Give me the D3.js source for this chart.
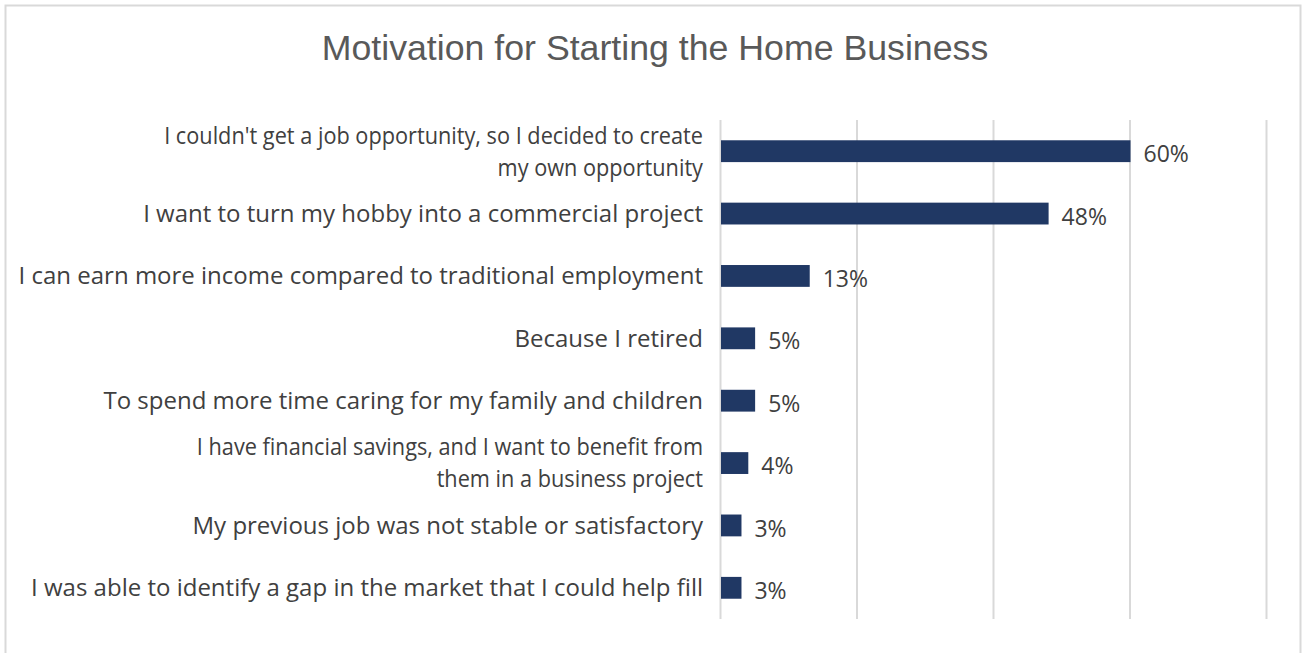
<!DOCTYPE html>
<html>
<head>
<meta charset="utf-8">
<script src="https://cdn.jsdelivr.net/npm/d3@7"></script>
<style>
  html, body { margin: 0; padding: 0; background: #fff; }
  svg { display: block; }
</style>
</head>
<body>
<svg id="chart" width="1306" height="653"></svg>
<script>
// Survey answers, one entry per bar; "\n" marks a wrapped label line
const categories = [
  "I couldn't get a job opportunity, so I decided to create\nmy own opportunity",
  "I want to turn my hobby into a commercial project",
  "I can earn more income compared to traditional employment",
  "Because I retired",
  "To spend more time caring for my family and children",
  "I have financial savings, and I want to benefit from\nthem in a business project",
  "My previous job was not stable or satisfactory",
  "I was able to identify a gap in the market that I could help fill"
];
// Share of respondents, percent
const values = [60, 48, 13, 5, 5, 4, 3, 3];
// Value-axis gridline positions, percent
const gridTicks = [0, 20, 40, 60, 80];
const titleText = "Motivation for Starting the Home Business";

const svg = d3.select("#chart");
const W = 1306, H = 653;

// Outer chart frame
svg.append("rect")
  .attr("x", 5.5).attr("y", 5.5)
  .attr("width", W - 11).attr("height", H + 20)
  .attr("fill", "#fff")
  .attr("stroke", "#d9d9d9").attr("stroke-width", 2);

// Title
svg.append("text")
  .attr("x", 655).attr("y", 60)
  .attr("text-anchor", "middle")
  .attr("font-family", "'Liberation Sans', Arial, sans-serif")
  .attr("font-size", 35.7)
  .attr("fill", "#595959")
  .text(titleText);

const plot = { left: 720, right: 1266, top: 120, bottom: 619 };

const x = d3.scaleLinear()
  .domain([0, d3.max(gridTicks)])
  .range([plot.left, plot.right]);

const y = d3.scaleBand()
  .domain(d3.range(categories.length))
  .range([plot.top, plot.bottom])
  .paddingInner(0.65)
  .paddingOuter(0.325);

// Vertical gridlines
const grid = svg.append("g")
  .attr("transform", `translate(0,${plot.bottom})`)
  .call(d3.axisBottom(x).tickValues(gridTicks)
    .tickSize(-(plot.bottom - plot.top)).tickFormat(""));
grid.select(".domain").remove();
grid.selectAll(".tick line")
  .attr("stroke", "#d9d9d9").attr("stroke-width", 2);

// Bars
svg.append("g").selectAll("rect")
  .data(values)
  .join("rect")
  .attr("x", x(0) + 1)
  .attr("y", (d, i) => y(i))
  .attr("width", d => x(d) - x(0))
  .attr("height", y.bandwidth())
  .attr("fill", "#203864");

// Value labels
svg.append("g").selectAll("text")
  .data(values)
  .join("text")
  .attr("x", d => x(d) + 14)
  .attr("y", (d, i) => y(i) + y.bandwidth() / 2 + 5)
  .attr("dominant-baseline", "middle")
  .attr("font-family", "'Open Sans', sans-serif")
  .attr("font-size", 23)
  .attr("fill", "#404040")
  .text(d => d + "%");

// Category labels, right-aligned against the value axis;
// wrapped labels are set in a narrower face
const labelX = plot.left - 17;
const catG = svg.append("g");
categories.forEach((c, i) => {
  const lines = c.split("\n");
  const cy = y(i) + y.bandwidth() / 2;
  const lineH = 32;
  const wrapped = lines.length > 1;
  const g = catG.append("g")
    .attr("transform", wrapped
      ? `translate(${labelX},0) scale(0.905,1)`
      : `translate(${labelX},0)`);
  lines.forEach((ln, k) => {
    g.append("text")
      .attr("x", 0)
      .attr("y", cy + (k - (lines.length - 1) / 2) * lineH + 2)
      .attr("text-anchor", "end")
      .attr("dominant-baseline", "middle")
      .attr("font-family", "'Open Sans', sans-serif")
      .attr("font-size", 24)
      .attr("fill", "#404040")
      .text(ln);
  });
});
</script>
</body>
</html>
